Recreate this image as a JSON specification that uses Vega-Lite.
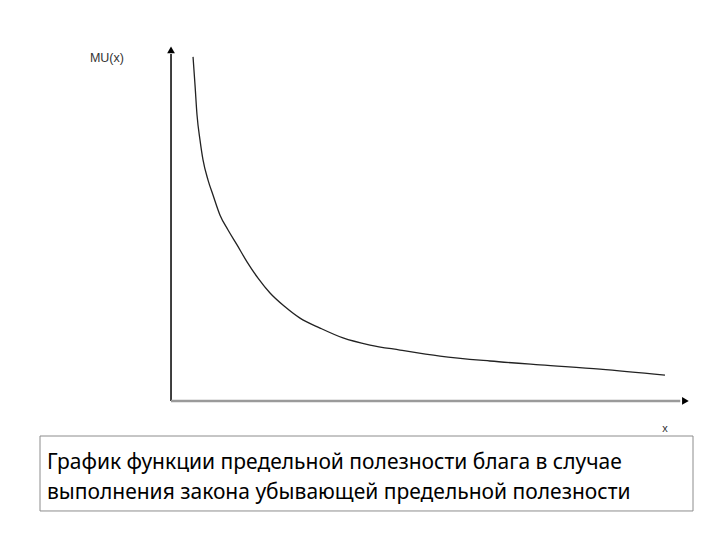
{
  "$schema": "https://vega.github.io/schema/vega-lite/v6.json",
  "width": 720,
  "height": 540,
  "padding": 0,
  "autosize": {"type": "fit", "contains": "padding"},
  "background": "white",
  "config": {"view": {"stroke": null}},
  "datasets": {
    "curve": [
      {"x": 4.26, "y": 97.2}, {"x": 4.64, "y": 89.3}, {"x": 5.03, "y": 80.8},
      {"x": 5.61, "y": 73.7}, {"x": 6.19, "y": 68.1}, {"x": 7.16, "y": 62.4},
      {"x": 8.12, "y": 58.2}, {"x": 9.48, "y": 52.5}, {"x": 11.03, "y": 48.3},
      {"x": 12.77, "y": 44.1}, {"x": 14.7, "y": 39.3}, {"x": 16.83, "y": 34.7},
      {"x": 19.15, "y": 30.5}, {"x": 22.05, "y": 26.6}, {"x": 24.95, "y": 23.4},
      {"x": 28.82, "y": 20.6}, {"x": 33.27, "y": 17.8}, {"x": 38.49, "y": 15.8},
      {"x": 44.29, "y": 14.4}, {"x": 52.03, "y": 12.7}, {"x": 61.7, "y": 11.3},
      {"x": 71.37, "y": 10.2}, {"x": 82.98, "y": 9.0}, {"x": 95.55, "y": 7.3}
    ],
    "yaxis": [{"x": 0, "y": 0, "x2": 0, "y2": 98}],
    "xaxis": [{"x": 0, "y": 0, "x2": 98.5, "y2": 0}],
    "arrowUp": [{"x": 0, "y": 99.2}],
    "arrowRight": [{"x": 99.5, "y": 0}],
    "labels": [
      {"x": -12.4, "y": 96.9, "t": "MU(x)", "s": 12.5},
      {"x": 95.55, "y": -7.9, "t": "x", "s": 11}
    ],
    "box": [{"x": -25.34, "y": -9.89, "x2": 100.97, "y2": -31.07}],
    "caption": [
      {"x": -24.0, "y": -17.5, "t": "График функции предельной полезности блага в случае"},
      {"x": -24.0, "y": -26.0, "t": "выполнения закона убывающей предельной полезности"}
    ]
  },
  "encoding": {
    "x": {"field": "x", "type": "quantitative", "scale": {"domain": [-33.08, 106.19], "nice": false, "zero": false}, "axis": null},
    "y": {"field": "y", "type": "quantitative", "scale": {"domain": [-39.27, 113.28], "nice": false, "zero": false}, "axis": null}
  },
  "layer": [
    {
      "data": {"name": "box"},
      "mark": {"type": "rect", "fill": "white", "stroke": "#8c8c8c", "strokeWidth": 1},
      "encoding": {"x2": {"field": "x2"}, "y2": {"field": "y2"}}
    },
    {
      "data": {"name": "yaxis"},
      "mark": {"type": "rule", "color": "black", "strokeWidth": 1.5},
      "encoding": {"x2": {"field": "x2"}, "y2": {"field": "y2"}}
    },
    {
      "data": {"name": "xaxis"},
      "mark": {"type": "rule", "color": "#9a9a9a", "strokeWidth": 2.5},
      "encoding": {"x2": {"field": "x2"}, "y2": {"field": "y2"}}
    },
    {
      "data": {"name": "arrowUp"},
      "mark": {"type": "point", "shape": "triangle-up", "filled": true, "color": "black", "size": 60, "opacity": 1},
      "encoding": {}
    },
    {
      "data": {"name": "arrowRight"},
      "mark": {"type": "point", "shape": "triangle-right", "filled": true, "color": "black", "size": 60, "opacity": 1},
      "encoding": {}
    },
    {
      "data": {"name": "curve"},
      "mark": {"type": "line", "color": "#222222", "strokeWidth": 1.3, "interpolate": "monotone"},
      "encoding": {}
    },
    {
      "data": {"name": "labels"},
      "mark": {"type": "text", "font": "Liberation Sans", "color": "#333333", "align": "center", "baseline": "middle"},
      "encoding": {"text": {"field": "t"}, "size": {"field": "s", "type": "quantitative", "scale": null}}
    },
    {
      "data": {"name": "caption"},
      "mark": {"type": "text", "font": "Noto Sans", "fontSize": 21, "color": "black", "align": "left", "baseline": "middle"},
      "encoding": {"text": {"field": "t"}}
    }
  ]
}
